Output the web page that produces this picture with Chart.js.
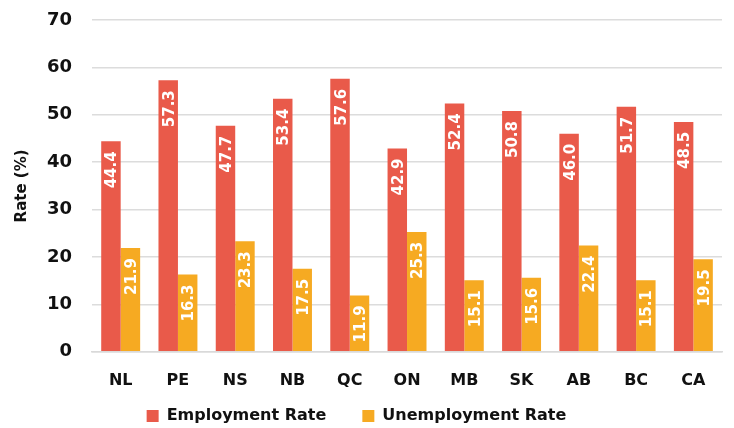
<!DOCTYPE html>
<html>
<head>
<meta charset="utf-8">
<script src="https://cdn.jsdelivr.net/npm/chart.js@4/dist/chart.umd.min.js"></script>
<style>
  html, body { margin: 0; padding: 0; background: #fff; }
  #wrap { width: 734px; height: 428px; }
</style>
</head>
<body>
<div id="wrap"><canvas id="rateChart" width="734" height="428"></canvas></div>
<script>
const provinces = ['NL', 'PE', 'NS', 'NB', 'QC', 'ON', 'MB', 'SK', 'AB', 'BC', 'CA'];
const employmentRate = [44.4, 57.3, 47.7, 53.4, 57.6, 42.9, 52.4, 50.8, 46.0, 51.7, 48.5];
const unemploymentRate = [21.9, 16.3, 23.3, 17.5, 11.9, 25.3, 15.1, 15.6, 22.4, 15.1, 19.5];
const yTicks = [0, 10, 20, 30, 40, 50, 60, 70];

const FONT = '"DejaVu Sans", "Open Sans", sans-serif';

// white rotated values drawn inside the top of each bar
const barLabels = {
    id: 'barLabels',
    afterDatasetsDraw(chart) {
        const ctx = chart.ctx;
        ctx.save();
        ctx.fillStyle = '#ffffff';
        ctx.font = 'bold 15px ' + FONT;
        ctx.textAlign = 'right';
        ctx.textBaseline = 'alphabetic';
        chart.data.datasets.forEach((ds, i) => {
            chart.getDatasetMeta(i).data.forEach((bar, j) => {
                ctx.save();
                ctx.translate(bar.x, bar.y + 10);
                ctx.rotate(-Math.PI / 2);
                ctx.fillText(ds.data[j].toFixed(1), 0, 5.5);
                ctx.restore();
            });
        });
        ctx.restore();
    }
};

// wider gaps between legend items without making the legend box taller
const legendSpacing = {
    id: 'legendSpacing',
    beforeInit(chart) {
        const lg = chart.legend;
        if (!lg) return;
        const fit = lg.fit;
        lg.fit = function() {
            fit.call(this);
            this.height = 19;
        };
        const draw = lg.draw;
        lg.draw = function() {
            const t = this.top, l = this.left, r = this.right;
            this.top -= 37;
            this.left -= 11;
            this.right -= 11;
            draw.call(this);
            this.top = t;
            this.left = l;
            this.right = r;
        };
    }
};

const ctx = document.getElementById('rateChart').getContext('2d');
const chart = new Chart(ctx, {
    type: 'bar',
    data: {
        labels: provinces,
        datasets: [{
            label: 'Employment Rate',
            data: employmentRate,
            backgroundColor: '#E95A4A'
        }, {
            label: 'Unemployment Rate',
            data: unemploymentRate,
            backgroundColor: '#F6AA22'
        }]
    },
    options: {
        responsive: false,
        animation: false,
        layout: { padding: { top: 20, right: 12, left: 13, bottom: 0 } },
        datasets: {
            bar: { barPercentage: 1, categoryPercentage: 0.68 }
        },
        scales: {
            x: {
                grid: { display: false, drawTicks: false },
                border: { color: '#d9d9d9', width: 1.5 },
                ticks: {
                    color: '#111',
                    padding: 19,
                    font: { family: FONT, size: 16, weight: 'bold' }
                }
            },
            y: {
                min: 0,
                max: 70,
                afterBuildTicks: axis => { axis.ticks = yTicks.map(v => ({ value: v })); },
                grid: {
                    color: '#dcdcdc',
                    lineWidth: 1.5,
                    drawTicks: true,
                    tickLength: 18,
                    tickColor: 'rgba(0,0,0,0)'
                },
                border: { display: false },
                ticks: {
                    color: '#111',
                    padding: 2,
                    font: { family: FONT, size: 18, weight: 'bold' }
                },
                title: {
                    display: true,
                    text: 'Rate (%)',
                    color: '#111',
                    padding: { top: 0, bottom: 14 },
                    font: { family: FONT, size: 15, weight: 'bold' }
                }
            }
        },
        plugins: {
            legend: {
                position: 'bottom',
                labels: {
                    color: '#111',
                    boxWidth: 12,
                    boxHeight: 12,
                    padding: 36,
                    font: { family: FONT, size: 16, weight: 'bold' }
                }
            },
            tooltip: { enabled: false }
        }
    },
    plugins: [barLabels, legendSpacing]
});
</script>
</body>
</html>
